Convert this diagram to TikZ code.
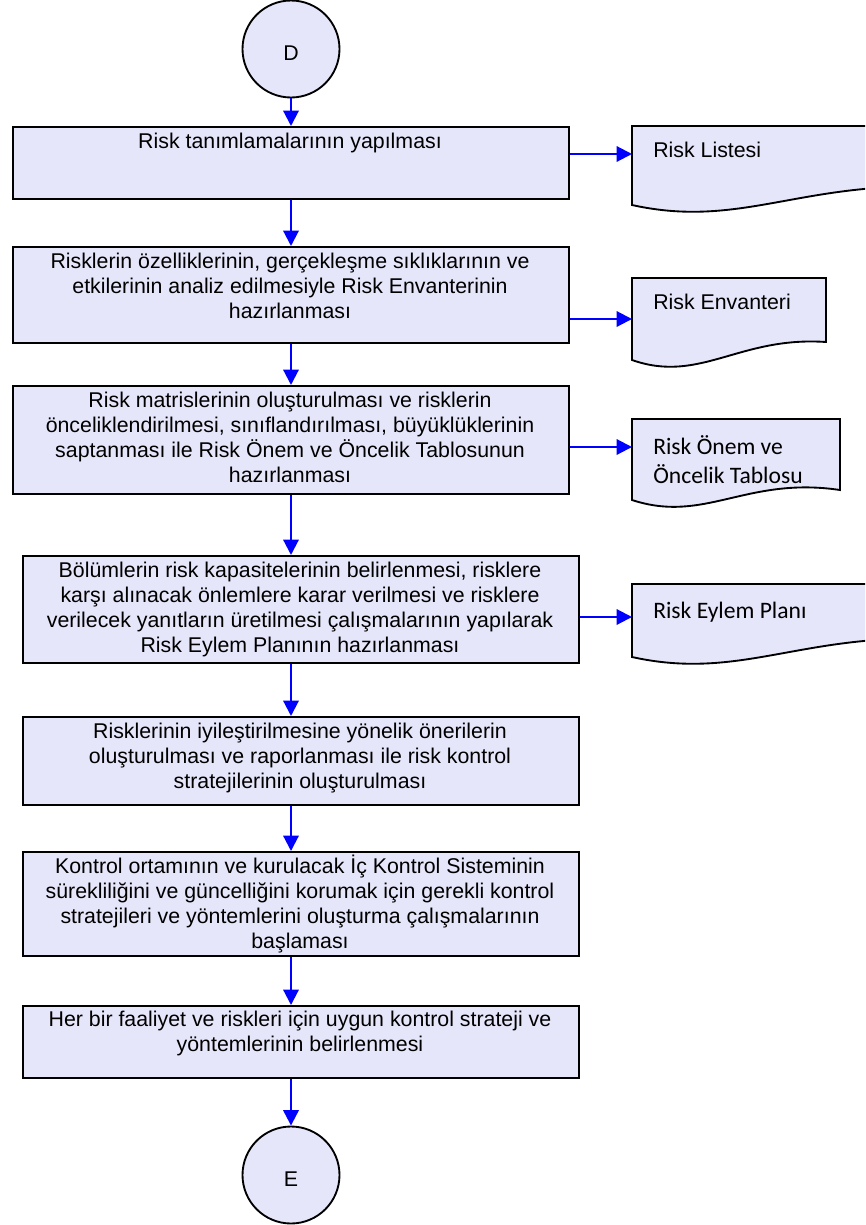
\documentclass[tikz,border=0pt]{standalone}
\usepackage{fontspec}
\setmainfont{Liberation Sans}
\newfontfamily\calibrifont{Carlito}
\usetikzlibrary{arrows.meta}
\definecolor{boxfill}{RGB}{230,230,250}
\definecolor{arrblue}{RGB}{0,0,255}
\begin{document}
\begin{tikzpicture}[x=0.75pt,y=-0.75pt,
  proc/.style={draw=black, line width=1.4pt, fill=boxfill, rectangle, inner sep=0pt, anchor=north west, minimum width=417pt},
  txt/.style={font=\fontsize{16pt}{18.75pt}\selectfont, align=center, inner sep=0pt, anchor=north},
  circ/.style={circle, draw=black, line width=1.4pt, fill=boxfill, minimum size=72.75pt, inner sep=0pt},
  clbl/.style={font=\fontsize{16pt}{18.75pt}\selectfont, inner sep=0pt},
  arr/.style={draw=arrblue, line width=1.6pt, -{Triangle[length=11.5pt,width=11.5pt]}},
  docshape/.style={draw=black, line width=1.4pt, fill=boxfill},
  doctxt/.style={font=\fontsize{16pt}{18.75pt}\selectfont, inner sep=0pt, anchor=base west},
  doctxtc/.style={font=\calibrifont\fontsize{17.7pt}{21.75pt}\selectfont, inner sep=0pt, anchor=base west}
]
\fill[white] (0,0) rectangle (865,1225);
\useasboundingbox (0,0) rectangle (865,1225);
\clip (0,0) rectangle (865,1225);

% start / end circles
\node[circ] (d) at (291,49) {};
\node[clbl] (dl) at (291,53) {D};
\node[circ] (e) at (291,1175) {};
\node[clbl] (el) at (291,1179) {E};

% process boxes
\node[proc, minimum height=54pt]    (b1) at (12,126) {};
\node[proc, minimum height=72pt]    (b2) at (12,246) {};
\node[proc, minimum height=81pt]    (b3) at (12,385) {};
\node[proc, minimum height=80.25pt] (b4) at (22,555) {};
\node[proc, minimum height=66pt]    (b5) at (22,716) {};
\node[proc, minimum height=78pt]    (b6) at (22,851) {};
\node[proc, minimum height=54pt]    (b7) at (22,1005) {};

\node[txt] (t1) at (290,128) {\rule{0pt}{15pt}Risk tanımlamalarının yapılması};
\node[txt] (t2) at (290,248) {\rule{0pt}{15pt}Risklerin özelliklerinin, gerçekleşme sıklıklarının ve\\etkilerinin analiz edilmesiyle Risk Envanterinin\\hazırlanması};
\node[txt] (t3) at (290,387) {\rule{0pt}{15pt}Risk matrislerinin oluşturulması ve risklerin\\önceliklendirilmesi, sınıflandırılması, büyüklüklerinin\\saptanması ile Risk Önem ve Öncelik Tablosunun\\hazırlanması};
\node[txt] (t4) at (300,557) {\rule{0pt}{15pt}Bölümlerin risk kapasitelerinin belirlenmesi, risklere\\karşı alınacak önlemlere karar verilmesi ve risklere\\verilecek yanıtların üretilmesi çalışmalarının yapılarak\\Risk Eylem Planının hazırlanması};
\node[txt] (t5) at (300,718) {\rule{0pt}{15pt}Risklerinin iyileştirilmesine yönelik önerilerin\\oluşturulması ve raporlanması ile risk kontrol\\stratejilerinin oluşturulması};
\node[txt] (t6) at (300,853) {\rule{0pt}{15pt}Kontrol ortamının ve kurulacak İç Kontrol Sisteminin\\sürekliliğini ve güncelliğini korumak için gerekli kontrol\\stratejileri ve yöntemlerini oluşturma çalışmalarının\\başlaması};
\node[txt] (t7) at (300,1006) {\rule{0pt}{15pt}Her bir faaliyet ve riskleri için uygun kontrol strateji ve\\yöntemlerinin belirlenmesi};

% documents
\draw[docshape] (632,126) -- (940,126) -- (940,187) .. controls (801,181) and (740,229) .. (632,205) -- cycle;
\draw[docshape] (632,278) -- (826,278) -- (826,342) .. controls (739,336) and (700,384) .. (632,360) -- cycle;
\draw[docshape] (632,419) -- (840,419) -- (840,490) .. controls (746,476) and (705,524) .. (632,500) -- cycle;
\draw[docshape] (632,584) -- (940,584) -- (940,639) .. controls (801,633) and (740,681) .. (632,657) -- cycle;

\node[doctxt] (l1) at (653,157) {Risk Listesi};
\node[doctxt] (l2) at (653,309) {Risk Envanteri};
\node[doctxtc] (l3a) at (653,454) {Risk Önem ve};
\node[doctxtc] (l3b) at (653,483) {Öncelik Tablosu};
\node[doctxtc] (l4) at (653,618) {Risk Eylem Planı};

\coordinate (a1) at (632,154);
\coordinate (a2) at (632,319);
\coordinate (a3) at (632,447);
\coordinate (a4) at (632,617);

% connectors
\draw[arr] (d.south) -- (b1.north -| d.south);
\draw[arr] (b1.south -| d.south) -- (b2.north -| d.south);
\draw[arr] (b2.south -| d.south) -- (b3.north -| d.south);
\draw[arr] (b3.south -| d.south) -- (b4.north -| d.south);
\draw[arr] (b4.south -| d.south) -- (b5.north -| d.south);
\draw[arr] (b5.south -| d.south) -- (b6.north -| d.south);
\draw[arr] (b6.south -| d.south) -- (b7.north -| d.south);
\draw[arr] (b7.south -| d.south) -- (e.north);

\draw[arr] (b1.east |- a1) -- (a1);
\draw[arr] (b2.east |- a2) -- (a2);
\draw[arr] (b3.east |- a3) -- (a3);
\draw[arr] (b4.east |- a4) -- (a4);
\end{tikzpicture}
\end{document}
